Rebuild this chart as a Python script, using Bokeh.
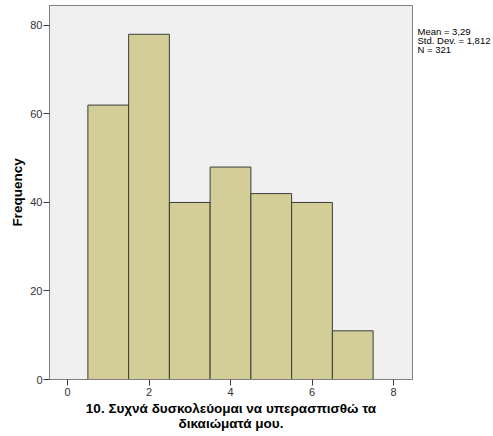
from bokeh.plotting import figure
from bokeh.models import Range1d, FixedTicker, LinearAxis
from bokeh.embed import file_html
from bokeh.resources import INLINE

# Histogram of responses (scale 1-7)
scores = [1, 2, 3, 4, 5, 6, 7]
counts = [62, 78, 40, 48, 42, 40, 11]
x_ticks = [0, 2, 4, 6, 8]
y_ticks = [0, 20, 40, 60, 80]
stats_lines = ["Mean = 3,29", "Std. Dev. = 1,812", "N = 321"]
x_title = "10. Συχνά δυσκολεύομαι να υπερασπισθώ τα\nδικαιώματά μου."

FONT = "Liberation Sans"

p = figure(frame_width=363, frame_height=374, output_backend="svg",
           toolbar_location=None,
           x_range=Range1d(-0.442, 8.466), y_range=Range1d(0, 84.5),
           min_border_left=49, min_border_right=81,
           min_border_top=5, min_border_bottom=57)

p.background_fill_color = "#f0f0f0"
p.border_fill_color = "white"
p.outline_line_color = "#808080"
p.grid.visible = False

p.quad(left=[s - 0.5 for s in scores], right=[s + 0.5 for s in scores],
       bottom=0, top=counts, fill_color="#d3ce97", line_color="#3c3c3c",
       line_width=1)

for ax in (p.xaxis[0], p.yaxis[0]):
    ax.axis_line_color = "#808080"
    ax.major_tick_line_color = "#3c3c3c"
    ax.major_tick_out = 6
    ax.major_tick_in = 0
    ax.minor_tick_line_color = None
    ax.major_label_text_font = FONT
    ax.major_label_text_font_size = "11px"
    ax.major_label_text_color = "#333333"
    ax.axis_label_text_font = FONT
    ax.axis_label_text_font_size = "13.5px"
    ax.axis_label_text_font_style = "bold"
    ax.axis_label_text_color = "black"
    ax.axis_label_text_line_height = 1.0

p.xaxis.ticker = FixedTicker(ticks=x_ticks)
p.yaxis.ticker = FixedTicker(ticks=y_ticks)
p.xaxis.major_label_standoff = 2
p.yaxis.major_label_standoff = 1
p.xaxis.axis_label = x_title
p.xaxis.axis_label_standoff = 2
p.yaxis.axis_label = "Frequency"
p.yaxis.axis_label_standoff = 2

# Summary statistics printed beside the plot area, one line per tick slot
stat_pos = [78.6, 76.6, 74.6]
stats_axis = LinearAxis(ticker=FixedTicker(ticks=stat_pos),
                        major_label_overrides={v: t for v, t in zip(stat_pos, stats_lines)},
                        axis_line_color=None, major_tick_line_color=None,
                        minor_tick_line_color=None, major_tick_out=0,
                        major_tick_in=0, major_label_standoff=5,
                        major_label_text_font=FONT,
                        major_label_text_font_size="9.5px",
                        major_label_text_color="black")
p.add_layout(stats_axis, "right")

open("out.html", "w").write(file_html(p, INLINE))
